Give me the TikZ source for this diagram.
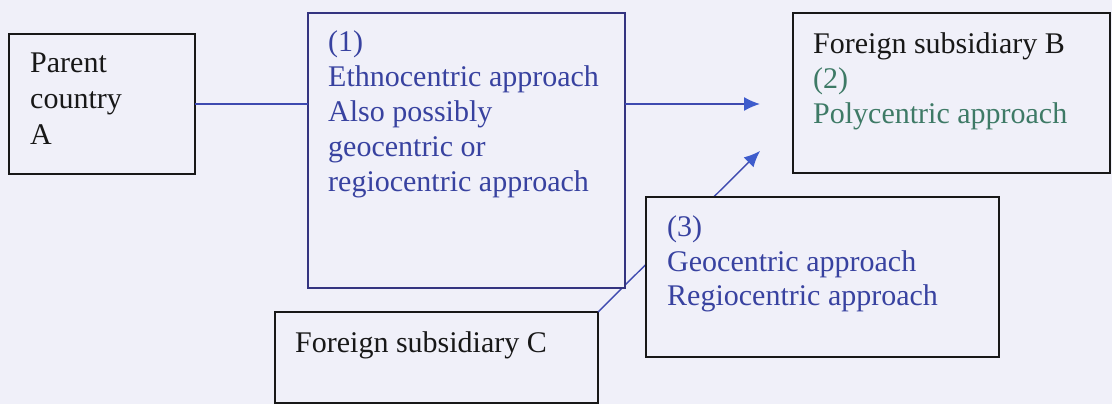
\documentclass[tikz,border=0pt]{standalone}
\usepackage{fontspec}
\setmainfont{Liberation Serif}
\usetikzlibrary{arrows.meta}
\definecolor{paper}{RGB}{240,240,249}
\definecolor{navy}{RGB}{52,52,128}
\definecolor{txtblue}{RGB}{56,66,160}
\definecolor{linkblue}{RGB}{62,74,176}
\definecolor{headblue}{RGB}{62,92,204}
\definecolor{txtgreen}{RGB}{62,122,102}
\definecolor{ink}{RGB}{24,24,24}
\newcommand\boxlines[1]{\begin{tabular}[t]{@{}l@{}}#1\end{tabular}}
\tikzset{
  frame/.style={draw=ink, line width=1.4pt, fill=paper, inner sep=0pt, outer sep=0pt, anchor=north west},
  txt/.style={inner sep=0pt, anchor=base west, font=\fontsize{30}{35}\selectfont},
  link/.style={draw=linkblue, line width=1.4pt},
  arrowlink/.style={link, -{Latex[length=16pt,width=14pt,color=headblue]}}
}
\begin{document}
\begin{tikzpicture}[x=1pt,y=-1pt]
  \fill[paper] (0,0) rectangle (1112,404);
  \useasboundingbox (0,0) rectangle (1112,404);

  % box C (its lower part runs off the page)
  \node[frame, minimum width=323, minimum height=91] (C) at (275,312) {};
  \coordinate (tipC) at (760,151);
  \draw[arrowlink] (C.north east) -- (tipC);

  % boxes
  \node[frame, minimum width=186, minimum height=140] (A) at (9,34) {};
  \node[frame, draw=navy, minimum width=317, minimum height=275] (E) at (308,13) {};
  \node[frame, minimum width=317, minimum height=160] (B) at (793,13) {};
  \node[frame, minimum width=353, minimum height=160] (G) at (646,197) {};

  % texts
  \node[txt, text=ink, font=\fontsize{30}{36}\selectfont] (tA) at (30,73)
    {\boxlines{Parent\\country\\A}};
  \node[txt, text=txtblue] (tE) at (328,52)
    {\boxlines{(1)\\Ethnocentric approach\\Also possibly\\geocentric or\\regiocentric approach}};
  \node[txt, text=ink] (tB) at (813,54)
    {\boxlines{Foreign subsidiary B\\\textcolor{txtgreen}{(2)}\\\textcolor{txtgreen}{Polycentric approach}}};
  \node[txt, text=txtblue] (tG) at (667,236)
    {\boxlines{(3)\\Geocentric approach\\Regiocentric approach}};
  \node[txt, text=ink] (tC) at (295,352) {Foreign subsidiary C};

  % connectors
  \coordinate (tipB) at (760,104);
  \draw[link] (A.east) -- (A.east -| E.west);
  \draw[arrowlink] (A.east -| E.east) -- (tipB);
\end{tikzpicture}
\end{document}
